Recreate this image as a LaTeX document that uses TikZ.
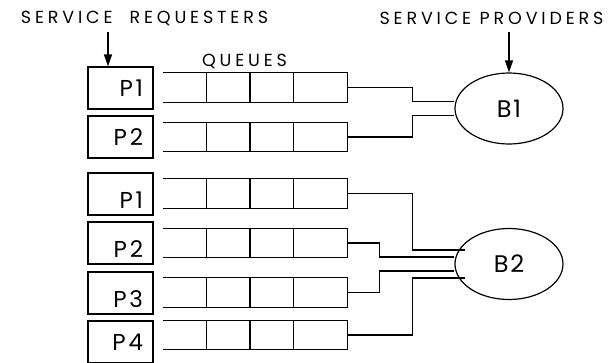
\documentclass[tikz,border=0pt]{standalone}
\usepackage{fontspec}
\setmainfont{Poppins}
\usetikzlibrary{shapes.geometric, arrows.meta, positioning, calc}
\tikzset{
  reqbox/.style={rectangle, draw, line width=1.2pt, minimum width=65pt, minimum height=42pt,
    text width=45pt, align=right, inner xsep=10pt, inner ysep=0pt,
    font=\fontsize{23}{23}\selectfont\addfontfeature{LetterSpace=12}, text height=16pt, text depth=0pt},
  reqlow/.style={reqbox, text height=28pt},
  queue/.style={rectangle, minimum width=184pt, minimum height=29pt, inner sep=0pt},
  bnode/.style={ellipse, draw, line width=1.2pt, minimum width=108pt, minimum height=71pt,
    inner sep=0pt, font=\fontsize{24}{24}\selectfont\addfontfeature{LetterSpace=8}},
  wire/.style={line width=1.2pt},
  arr/.style={-{Triangle[length=12pt,width=8pt]}, line width=1.2pt},
  ttl/.style={font=\fontsize{17.5}{17.5}\selectfont\addfontfeature{LetterSpace=22}, inner sep=0pt},
}
\begin{document}
\begin{tikzpicture}[x=1pt, y=-1pt]
\useasboundingbox (0,0) rectangle (616,362);
\def\xP{120.5}\def\xQ{255}\def\xB{509}
% titles
\node[ttl] (reqlbl) at (144.5,18.5) {SERVICE\ \ REQUESTERS};
\node[ttl] (provlbl) at (491.5,18.5) {SERVICE PROVIDERS};
\node[ttl] (qlbl) at (244.5,61) {QUEUES};
% requesters
\node[reqbox] (pa1) at (\xP,88) {P1};
\node[reqbox] (pa2) at (\xP,137) {P2};
\node[reqlow] (pb1) at (\xP,194) {P1};
\node[reqlow] (pb2) at (\xP,243) {P2};
\node[reqlow] (pb3) at (\xP,293) {P3};
\node[reqbox] (pb4) at (\xP,342) {P4};
% queues
\node[queue] (qa1) at (\xQ,87.5) {};
\node[queue] (qa2) at (\xQ,137) {};
\node[queue] (qb1) at (\xQ,193.5) {};
\node[queue] (qb2) at (\xQ,243) {};
\node[queue] (qb3) at (\xQ,292.5) {};
\node[queue] (qb4) at (\xQ,335) {};
\foreach \q in {qa1,qa2,qb1,qb2,qb3,qb4}{
  \draw[wire] (\q.north west) -- (\q.north east) -- (\q.south east) -- (\q.south west);
  \foreach \f in {0.239,0.473,0.707}
    \draw[wire] ($(\q.north west)!\f!(\q.north east)$) -- ($(\q.south west)!\f!(\q.south east)$);
}
% providers
\node[bnode] (B1) at (\xB,108.5) {B1};
\node[bnode] (B2) at (\xB,264) {B2};
% arrows from titles
\coordinate (reqin) at (108,32);
\coordinate (provin) at (\xB,32);
\draw[arr] (reqin) -- (reqin |- pa1.north);
\draw[arr] (provin) -- (B1.north);
% wiring
\draw[wire] (qa1.east) -- ++(65,0) |- ($(B1.west)+(0,-7)$);
\draw[wire] (qa2.east) -- ++(65,0) |- ($(B1.west)+(0,7)$);
\draw[wire] (qb1.east) -- ++(65,0) |- ($(B2.west)+(11,-14)$);
\draw[wire] (qb2.east) -- ++(32,0) |- ($(B2.west)+(0,-7)$);
\draw[wire] (qb3.east) -- ++(32,0) |- ($(B2.west)+(0,7)$);
\draw[wire] (qb4.east) -- ++(65,0) |- ($(B2.west)+(11,14)$);
\end{tikzpicture}
\end{document}
